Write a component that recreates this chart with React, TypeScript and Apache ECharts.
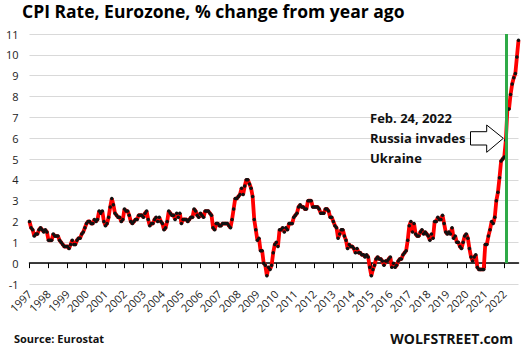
import React, { useEffect, useRef } from "react";
import * as echarts from "echarts";

const years: number[] = [
  1997, 1998, 1999, 2000, 2001, 2002, 2003, 2004, 2005, 2006, 2007, 2008, 2009,
  2010, 2011, 2012, 2013, 2014, 2015, 2016, 2017, 2018, 2019, 2020, 2021, 2022,
];

// Monthly CPI (HICP) rate, Eurozone, % change from year ago
const cpi1990s: number[] = [
  2.0, 1.7, 1.6, 1.3, 1.4, 1.4, 1.6, 1.7, 1.6, 1.5, 1.6, 1.5, // 1997
  1.1, 1.1, 1.1, 1.4, 1.3, 1.3, 1.3, 1.1, 1.0, 0.9, 0.8, 0.8, // 1998
  0.8, 0.7, 0.9, 1.1, 0.9, 0.9, 1.1, 1.2, 1.2, 1.4, 1.5, 1.7, // 1999
];
const cpi2000s: number[] = [
  1.9, 2.0, 2.0, 1.9, 1.9, 2.1, 2.0, 2.1, 2.5, 2.4, 2.5, 2.0, // 2000
  1.8, 1.9, 2.2, 2.7, 3.1, 2.8, 2.4, 2.3, 2.2, 2.2, 2.0, 2.1, // 2001
  2.6, 2.5, 2.5, 2.3, 2.0, 1.9, 2.0, 2.1, 2.1, 2.3, 2.3, 2.3, // 2002
  2.2, 2.4, 2.5, 2.1, 1.8, 1.9, 1.9, 2.1, 2.2, 2.0, 2.2, 2.0, // 2003
  1.9, 1.6, 1.7, 2.0, 2.5, 2.4, 2.3, 2.3, 2.1, 2.4, 2.2, 2.4, // 2004
  1.9, 2.1, 2.1, 2.1, 2.0, 2.1, 2.2, 2.2, 2.6, 2.5, 2.3, 2.2, // 2005
  2.4, 2.3, 2.2, 2.5, 2.5, 2.5, 2.4, 2.3, 1.7, 1.6, 1.9, 1.9, // 2006
  1.8, 1.8, 1.9, 1.9, 1.9, 1.9, 1.8, 1.7, 2.1, 2.6, 3.1, 3.1, // 2007
  3.2, 3.3, 3.6, 3.3, 3.7, 4.0, 4.0, 3.8, 3.6, 3.2, 2.1, 1.6, // 2008
  1.1, 1.2, 0.6, 0.6, 0.0, -0.1, -0.6, -0.2, -0.3, -0.1, 0.5, 0.9, // 2009
];
const cpi2010s: number[] = [
  1.0, 0.8, 1.6, 1.6, 1.7, 1.5, 1.7, 1.6, 1.9, 1.9, 1.9, 2.2, // 2010
  2.3, 2.4, 2.7, 2.8, 2.7, 2.7, 2.6, 2.6, 3.0, 3.0, 3.0, 2.7, // 2011
  2.7, 2.7, 2.7, 2.6, 2.4, 2.4, 2.4, 2.6, 2.6, 2.5, 2.2, 2.2, // 2012
  2.0, 1.8, 1.7, 1.2, 1.4, 1.6, 1.6, 1.3, 1.1, 0.7, 0.9, 0.8, // 2013
  0.8, 0.7, 0.5, 0.7, 0.5, 0.5, 0.4, 0.4, 0.3, 0.4, 0.3, -0.2, // 2014
  -0.6, -0.3, -0.1, 0.2, 0.3, 0.2, 0.2, 0.1, -0.1, 0.1, 0.1, 0.2, // 2015
  0.3, -0.2, 0.0, -0.2, -0.1, 0.1, 0.2, 0.2, 0.4, 0.5, 0.6, 1.1, // 2016
  1.8, 2.0, 1.5, 1.9, 1.4, 1.3, 1.3, 1.5, 1.6, 1.4, 1.5, 1.4, // 2017
  1.3, 1.1, 1.4, 1.2, 2.0, 2.0, 2.2, 2.1, 2.1, 2.3, 1.9, 1.5, // 2018
  1.4, 1.5, 1.4, 1.7, 1.2, 1.3, 1.0, 1.0, 0.8, 0.7, 1.0, 1.3, // 2019
];
const cpi2020s: number[] = [
  1.4, 1.2, 0.7, 0.3, 0.1, 0.3, 0.4, -0.2, -0.3, -0.3, -0.3, -0.3, // 2020
  0.9, 0.9, 1.3, 1.6, 2.0, 1.9, 2.2, 3.0, 3.4, 4.1, 4.9, 5.0, // 2021
  5.1, 5.9, 7.4, 7.4, 8.1, 8.6, 8.9, 9.1, 9.9, 10.7, // 2022 (Jan-Oct)
];

const cpiRate: number[] = [...cpi1990s, ...cpi2000s, ...cpi2010s, ...cpi2020s];

const monthCodes: string[] = ["01", "02", "03", "04", "05", "06", "07", "08", "09", "10", "11", "12"];
const months: string[] = [];
years.forEach((y) => monthCodes.forEach((m) => months.push(`${y}-${m}`)));
const categories: string[] = months.slice(0, cpiRate.length);

const invasionMonth = "2022-02";
const yTicks = { min: -1, max: 11, interval: 1 };

const titleText = "CPI Rate, Eurozone, % change from year ago";
const annotationLines = ["Feb. 24, 2022", "Russia invades", "Ukraine"];
const sourceText = "Source: Eurostat";
const brandText = "WOLFSTREET.com";

const FONT = "'Open Sans', 'DejaVu Sans', sans-serif";

const GRID_LEFT = 29.5;
const GRID_RIGHT = 6.5;
const GRID_TOP = 34;
const GRID_BOTTOM = 71;

export default function App() {
  const ref = useRef<HTMLDivElement>(null);

  useEffect(() => {
    if (!ref.current) return;
    const chart = echarts.init(ref.current, undefined, { renderer: "svg" });
    const isJan = (i: number) => i % 12 === 0;
    const plotH = 355 - GRID_TOP - GRID_BOTTOM;
    const zeroFromBottom = GRID_BOTTOM + (plotH * (0 - yTicks.min)) / (yTicks.max - yTicks.min);

    chart.setOption({
      animation: false,
      backgroundColor: "#ffffff",
      textStyle: { fontFamily: FONT },
      title: {
        text: titleText,
        left: 22,
        top: 2,
        padding: 0,
        textStyle: { fontFamily: FONT, fontSize: 17.5, fontWeight: "bold", color: "#000" },
      },
      grid: [
        { left: GRID_LEFT, right: GRID_RIGHT, top: GRID_TOP, bottom: GRID_BOTTOM, containLabel: false },
        // thin helper grid whose bottom edge sits on the zero line: draws the black axis line + year ticks
        { left: GRID_LEFT, right: GRID_RIGHT, top: 100, bottom: zeroFromBottom, containLabel: false },
      ],
      xAxis: [
        {
          type: "category",
          gridIndex: 0,
          data: categories,
          boundaryGap: false,
          position: "bottom",
          axisLine: { show: false, onZero: false },
          axisTick: { show: false },
          splitLine: { show: false },
          axisLabel: {
            interval: (i: number) => isJan(i),
            rotate: 45,
            margin: 8,
            fontSize: 11,
            color: "#222",
            fontFamily: FONT,
            formatter: (v: string) => v.slice(0, 4),
          },
        },
        {
          type: "category",
          gridIndex: 1,
          data: categories,
          boundaryGap: false,
          position: "bottom",
          axisLine: { show: true, onZero: false, lineStyle: { color: "#000", width: 1.5 } },
          axisTick: {
            show: true,
            interval: (i: number) => isJan(i),
            length: 5,
            inside: false,
            lineStyle: { color: "#000", width: 1 },
          },
          axisLabel: { show: false },
          splitLine: { show: false },
        },
      ],
      yAxis: [
        {
          type: "value",
          gridIndex: 0,
          min: yTicks.min,
          max: yTicks.max,
          interval: yTicks.interval,
          axisLine: { show: false },
          axisTick: { show: false },
          axisLabel: { fontSize: 11, color: "#222", margin: 11, fontFamily: FONT },
          splitLine: { lineStyle: { color: "#d9d9d9", width: 1 } },
        },
        {
          type: "value",
          gridIndex: 1,
          min: 0,
          max: 1,
          show: false,
          splitLine: { show: false },
        },
      ],
      series: [
        {
          type: "line",
          data: cpiRate,
          xAxisIndex: 0,
          yAxisIndex: 0,
          showSymbol: true,
          showAllSymbol: true,
          symbol: "circle",
          symbolSize: 3.5,
          itemStyle: { color: "#111" },
          lineStyle: { color: "#ff0000", width: 3.8 },
          z: 3,
          markLine: {
            silent: true,
            symbol: ["none", "none"],
            label: { show: false },
            lineStyle: { color: "#2eaa47", width: 3, type: "solid" },
            data: [[{ coord: [invasionMonth, 0] }, { coord: [invasionMonth, 11] }]],
          },
        },
      ],
      graphic: [
        {
          type: "text",
          left: 370,
          top: 108,
          style: {
            text: annotationLines.join("\n"),
            font: `bold 13px ${FONT}`,
            fill: "#111",
            lineHeight: 20,
          },
          z: 10,
        },
        {
          type: "polygon",
          shape: {
            points: [
              [470.5, 131.7],
              [486.7, 131.7],
              [486.7, 125],
              [503.3, 138.3],
              [486.7, 152.3],
              [486.7, 145],
              [470.5, 145],
            ],
          },
          style: { fill: "#ffffff", stroke: "#000", lineWidth: 1 },
          z: 10,
        },
        {
          type: "text",
          left: 14,
          top: 333,
          style: { text: sourceText, font: `bold 11px ${FONT}`, fill: "#111" },
        },
        {
          type: "text",
          right: 12,
          top: 331,
          style: { text: brandText, font: `bold 14px ${FONT}`, fill: "#111" },
        },
      ],
    });

    return () => chart.dispose();
  }, []);

  return (
    <div
      ref={ref}
      style={{ position: "absolute", left: 0, top: 0, width: 525, height: 355 }}
    />
  );
}
